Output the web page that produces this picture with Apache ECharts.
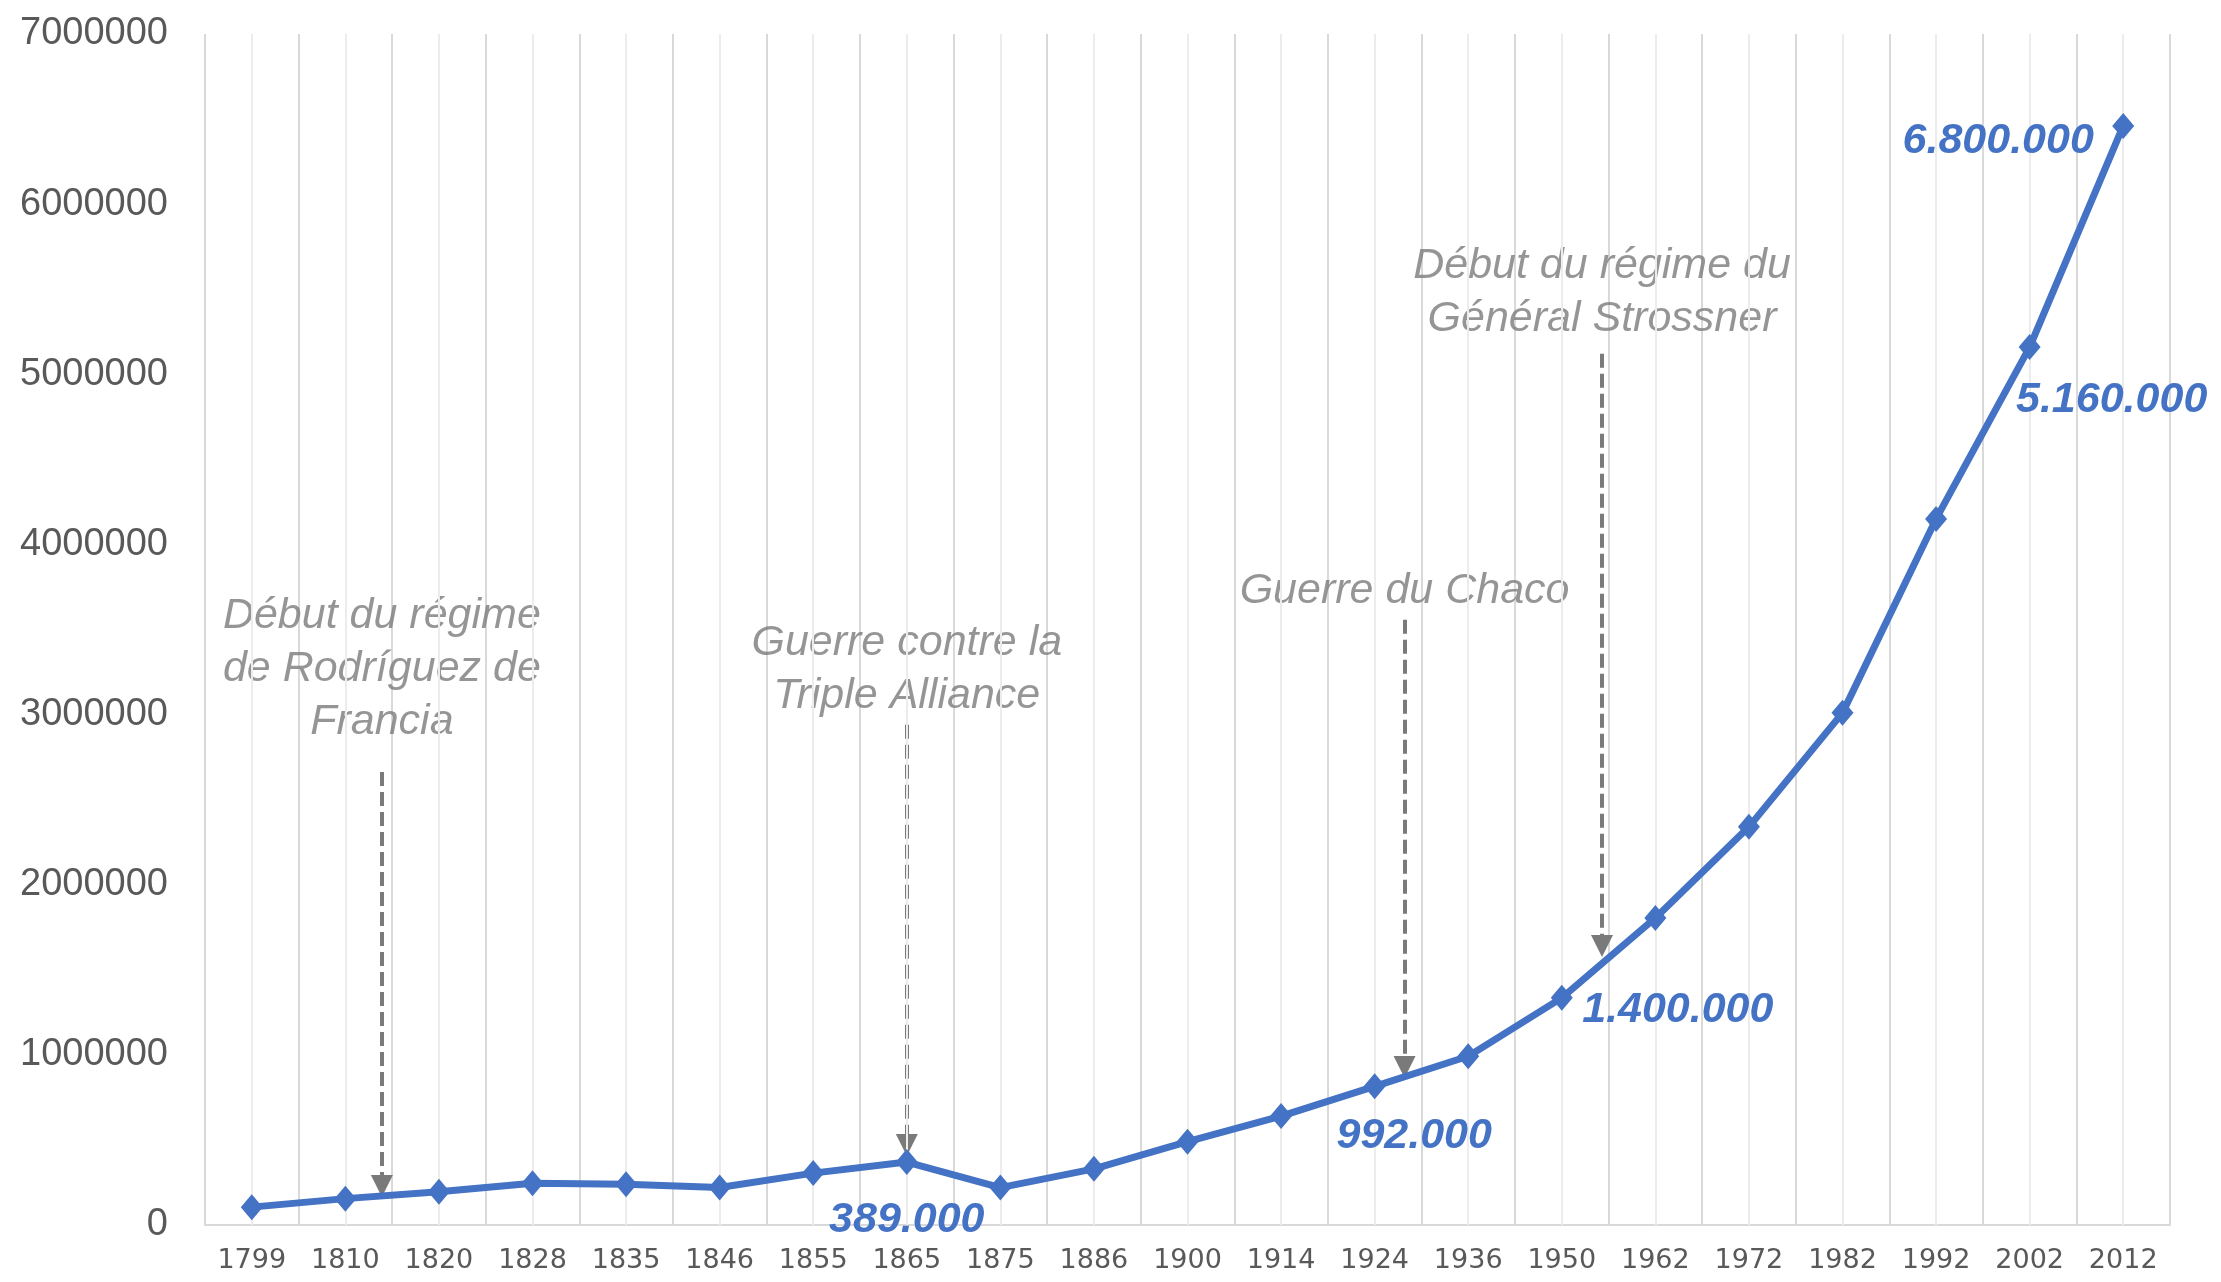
<!DOCTYPE html>
<html>
<head>
<meta charset="utf-8">
<script src="https://cdn.jsdelivr.net/npm/echarts@6/dist/echarts.min.js"></script>
<style>
html,body{margin:0;padding:0;background:#fff;}
#chart{width:2221px;height:1282px;}
</style>
</head>
<body>
<div id="chart"></div>
<script>
// ---- data ----
const years = ['1799','1810','1820','1828','1835','1846','1855','1865','1875','1886','1900','1914','1924','1936','1950','1962','1972','1982','1992','2002','2012'];
const population = [105000,155000,195000,245000,240000,220000,305000,370000,220000,330000,490000,640000,815000,992000,1335000,1805000,2340000,3010000,4150000,5160000,6460000];
const yTicks = [0,1000000,2000000,3000000,4000000,5000000,6000000,7000000];

// value labels shown on the line (index into years, text)
const valueLabelIndex = [7, 13, 14, 19, 20];
const valueLabelText = ['389.000', '992.000', '1.400.000', '5.160.000', '6.800.000'];

// historical annotations: fractional category position, text, text centre value, arrow start, arrow tip
const annotationText = [
  'Début du régime\nde Rodríguez de\nFrancia',
  'Guerre contre la\nTriple Alliance',
  'Guerre du Chaco',
  'Début du régime du\nGénéral Strossner'
];
const annotationPos = [1.39, 7.0, 12.32, 14.43];
const annotationTextValue = [3270000, 3265000, 3727000, 5480000];
const arrowStart = [2663000, 2940000, 3557000, 5120000];
const arrowTip = [159000, 400000, 858000, 1570000];

// ---- styles ----
const BLUE = '#4472C4';
const GRAY = '#7a7a7a';
const FONT = '"Liberation Sans", Arial, sans-serif';

const labelOffsets = [[0, 58], [-54, 80], [116, 12], [82, 53], [-125, 15]];

const lineData = population.map((v, i) => {
  const k = valueLabelIndex.indexOf(i);
  if (k < 0) return v;
  return {
    value: v,
    label: {
      show: true,
      formatter: valueLabelText[k],
      position: 'inside',
      offset: labelOffsets[k],
      color: BLUE,
      fontSize: 43,
      fontWeight: 'bold',
      fontStyle: 'italic',
      fontFamily: FONT
    }
  };
});

const chart = echarts.init(document.getElementById('chart'), null, {renderer: 'canvas'});
chart.setOption({
  animation: false,
  backgroundColor: '#ffffff',
  grid: {left: 205, right: 51, top: 34, bottom: 57, containLabel: false},
  xAxis: [
    {
      type: 'category',
      data: years,
      boundaryGap: true,
      axisLine: {show: true, lineStyle: {color: '#d9d9d9', width: 2}},
      axisTick: {show: false},
      splitLine: {show: true, interval: 0, lineStyle: {color: '#d9d9d9', width: 2}},
      axisLabel: {interval: 0, color: '#595959', fontSize: 27, fontFamily: '"DejaVu Sans", sans-serif', margin: 22}
    },
    {
      type: 'value',
      min: -0.5,
      max: 20.5,
      show: false
    }
  ],
  yAxis: {
    type: 'value',
    min: 0,
    max: 7000000,
    interval: 1000000,
    axisLine: {show: false},
    axisTick: {show: false},
    splitLine: {show: false},
    axisLabel: {color: '#595959', fontSize: 38, fontFamily: FONT, margin: 37,
      formatter: v => yTicks.indexOf(v) >= 0 ? String(v) : ''}
  },
  series: [
    {
      // light mid-category grid lines
      type: 'line',
      data: years.map(() => null),
      z: 1,
      silent: true,
      markLine: {
        silent: true,
        symbol: ['none', 'none'],
        label: {show: false},
        lineStyle: {color: '#ececec', width: 2, type: 'solid'},
        data: years.map(y => ({xAxis: y}))
      }
    },
    {
      type: 'lines',
      coordinateSystem: 'cartesian2d',
      xAxisIndex: 1,
      yAxisIndex: 0,
      z: 3,
      silent: true,
      symbol: ['none', 'triangle'],
      symbolSize: [0, 22],
      lineStyle: {color: GRAY, width: 4, type: [14, 6], opacity: 1},
      data: annotationPos.map((x, i) => ({coords: [[x, arrowStart[i]], [x, arrowTip[i] + 70000]]}))
    },
    {
      type: 'scatter',
      xAxisIndex: 1,
      yAxisIndex: 0,
      z: 4,
      silent: true,
      symbolSize: 1,
      itemStyle: {color: 'rgba(0,0,0,0)'},
      label: {
        show: true,
        position: 'inside',
        formatter: p => annotationText[p.dataIndex],
        color: GRAY,
        fontSize: 43,
        fontStyle: 'italic',
        fontFamily: FONT,
        lineHeight: 53,
        align: 'center'
      },
      data: annotationPos.map((x, i) => [x, annotationTextValue[i]])
    },
    {
      type: 'line',
      data: lineData,
      z: 5,
      symbol: 'diamond',
      symbolSize: [22, 26],
      lineStyle: {color: BLUE, width: 7},
      itemStyle: {color: BLUE},
      label: {show: false}
    }
  ]
});
</script>
</body>
</html>
